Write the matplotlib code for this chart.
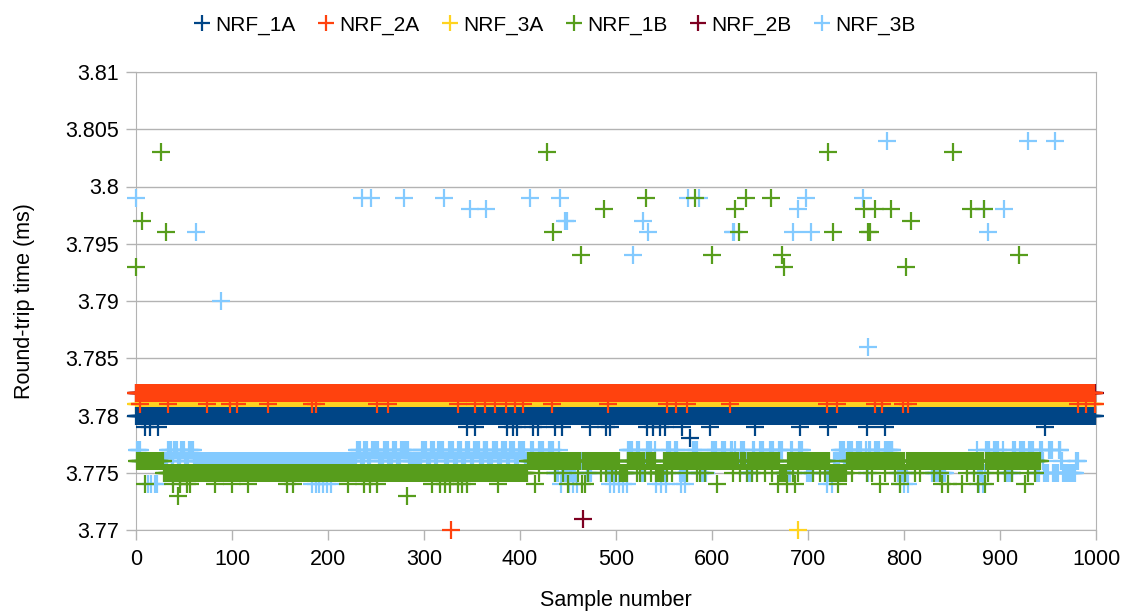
import numpy as np
import matplotlib
matplotlib.use("Agg")
import matplotlib.pyplot as plt
from matplotlib.lines import Line2D

plt.rcParams["font.family"] = ["Liberation Sans", "DejaVu Sans"]

# series data: base runs (start, stop, value), extra runs, single points (sample, value)
names = ["NRF_1A", "NRF_2A", "NRF_3A", "NRF_1B", "NRF_2B", "NRF_3B"]
colors = ["#004586", "#ff420e", "#ffd320", "#579d1c", "#7e0021", "#83caff"]

nrf_1a_base = [(0, 999, 3.780)]
nrf_1a_runs = []
nrf_1a_points = [(9, 3.779), (15, 3.779), (23, 3.779), (345, 3.779), (353, 3.779),
                 (386, 3.779), (393, 3.779), (397, 3.779), (414, 3.779), (419, 3.779),
                 (436, 3.779), (444, 3.779), (473, 3.779), (490, 3.779), (494, 3.779),
                 (532, 3.779), (539, 3.779), (546, 3.779), (551, 3.779), (569, 3.779),
                 (577, 3.778), (598, 3.779), (645, 3.779), (692, 3.779), (721, 3.779),
                 (761, 3.779), (780, 3.779), (947, 3.779)]

nrf_2a_base = [(0, 999, 3.782)]
nrf_2a_runs = []
nrf_2a_points = [(4, 3.781), (33, 3.781), (74, 3.781), (98, 3.781), (105, 3.781),
                 (138, 3.781), (183, 3.781), (188, 3.781), (251, 3.781), (263, 3.781),
                 (328, 3.770), (335, 3.781), (353, 3.781), (364, 3.781), (374, 3.781),
                 (385, 3.781), (395, 3.781), (403, 3.781), (433, 3.781), (492, 3.781),
                 (553, 3.781), (563, 3.781), (574, 3.781), (619, 3.781), (720, 3.781),
                 (730, 3.781), (770, 3.781), (777, 3.781), (799, 3.781), (804, 3.781),
                 (981, 3.781), (990, 3.781), (999, 3.781)]

nrf_3a_base = [(0, 999, 3.781)]
nrf_3a_runs = []
nrf_3a_points = [(690, 3.770)]

nrf_1b_base = [(0, 407, 3.775), (408, 942, 3.776)]
nrf_1b_runs = [(1, 28, 3.776), (504, 511, 3.775), (542, 549, 3.775), (671, 677, 3.775),
               (723, 740, 3.775)]
nrf_1b_points = [
    # 3.774 / 3.773 lower scatter
    (9, 3.774), (39, 3.774), (44, 3.773), (46, 3.774), (53, 3.774), (56, 3.774),
    (82, 3.774), (100, 3.774), (117, 3.774), (157, 3.774), (164, 3.774), (221, 3.774),
    (237, 3.774), (244, 3.774), (251, 3.774), (282, 3.773), (308, 3.774), (317, 3.774),
    (322, 3.774), (327, 3.774), (335, 3.774), (340, 3.774), (345, 3.774), (377, 3.774),
    (416, 3.774), (450, 3.774), (465, 3.774), (468, 3.774), (605, 3.774), (669, 3.774),
    (678, 3.774), (686, 3.774), (726, 3.774), (731, 3.774), (770, 3.774), (775, 3.774),
    (796, 3.774), (840, 3.774), (846, 3.774), (860, 3.774), (877, 3.774), (884, 3.774),
    (926, 3.774),
    # 3.775 after the step
    (420, 3.775), (428, 3.775), (436, 3.775), (445, 3.775), (460, 3.775), (471, 3.775),
    (484, 3.775), (490, 3.775), (496, 3.775), (500, 3.775), (522, 3.775), (525, 3.775),
    (530, 3.775), (536, 3.775), (553, 3.775), (558, 3.775), (574, 3.775), (584, 3.775),
    (587, 3.775), (593, 3.775), (600, 3.775), (622, 3.775), (629, 3.775), (636, 3.775),
    (642, 3.775), (647, 3.775), (655, 3.775), (663, 3.775), (684, 3.775), (690, 3.775),
    (705, 3.775), (712, 3.775), (718, 3.775), (746, 3.775), (761, 3.775), (767, 3.775),
    (780, 3.775), (786, 3.775), (791, 3.775), (801, 3.775), (811, 3.775), (817, 3.775),
    (831, 3.775), (838, 3.775), (851, 3.775), (866, 3.775), (873, 3.775), (888, 3.775),
    (898, 3.775), (905, 3.775), (913, 3.775), (920, 3.775), (929, 3.775), (936, 3.775),
    # outliers above
    (0, 3.793), (6, 3.797), (26, 3.803), (31, 3.796), (428, 3.803), (434, 3.796),
    (464, 3.794), (488, 3.798), (531, 3.799), (582, 3.799), (600, 3.794), (624, 3.798),
    (628, 3.796), (635, 3.799), (661, 3.799), (673, 3.794), (675, 3.793), (721, 3.803),
    (726, 3.796), (758, 3.798), (763, 3.796), (765, 3.796), (770, 3.798), (786, 3.798),
    (802, 3.793), (807, 3.797), (851, 3.803), (870, 3.798), (883, 3.798), (920, 3.794)]

nrf_2b_base = [(0, 999, 3.782)]
nrf_2b_runs = []
nrf_2b_points = [(466, 3.771)]

nrf_3b_base = [(0, 981, 3.776)]
nrf_3b_runs = [
    # 3.777 upper band
    (1, 4, 3.777), (33, 36, 3.777), (40, 43, 3.777), (47, 50, 3.777), (55, 59, 3.777),
    (230, 233, 3.777), (238, 241, 3.777), (246, 252, 3.777), (258, 262, 3.777),
    (268, 271, 3.777), (276, 283, 3.777), (298, 302, 3.777), (307, 310, 3.777),
    (315, 320, 3.777), (326, 330, 3.777), (335, 339, 3.777), (344, 347, 3.777),
    (352, 357, 3.777), (362, 366, 3.777), (372, 376, 3.777), (381, 385, 3.777),
    (390, 394, 3.777), (399, 404, 3.777), (410, 414, 3.777), (420, 424, 3.777),
    (430, 434, 3.777), (440, 445, 3.777), (504, 508, 3.777), (513, 517, 3.777),
    (522, 526, 3.777), (532, 536, 3.777), (541, 545, 3.777), (551, 556, 3.777),
    (561, 564, 3.777), (570, 574, 3.777), (580, 584, 3.777), (590, 594, 3.777),
    (600, 604, 3.777), (610, 614, 3.777), (620, 624, 3.777), (630, 633, 3.777),
    (640, 644, 3.777), (650, 653, 3.777), (660, 664, 3.777), (670, 674, 3.777),
    (680, 684, 3.777), (690, 694, 3.777), (699, 702, 3.777), (733, 737, 3.777),
    (742, 746, 3.777), (751, 755, 3.777), (760, 765, 3.777), (770, 774, 3.777),
    (780, 788, 3.777), (876, 880, 3.777), (885, 889, 3.777), (894, 898, 3.777),
    (903, 907, 3.777), (912, 916, 3.777), (921, 925, 3.777), (930, 934, 3.777),
    (940, 944, 3.777), (950, 954, 3.777), (958, 963, 3.777), (966, 968, 3.777),
    # 3.775 lower band
    (436, 440, 3.775), (443, 457, 3.775), (470, 474, 3.775), (492, 500, 3.775),
    (504, 511, 3.775), (525, 530, 3.775), (542, 552, 3.775), (567, 574, 3.775),
    (587, 594, 3.775), (636, 642, 3.775), (674, 681, 3.775), (698, 705, 3.775),
    (719, 726, 3.775), (761, 763, 3.775), (794, 804, 3.775), (829, 843, 3.775),
    (877, 884, 3.775), (905, 913, 3.775), (937, 941, 3.775), (946, 950, 3.775),
    (955, 960, 3.775), (966, 978, 3.775)]
nrf_3b_points = [
    (12, 3.774), (16, 3.774), (20, 3.774), (22, 3.774), (183, 3.774), (187, 3.774),
    (191, 3.774), (195, 3.774), (199, 3.774), (203, 3.774), (443, 3.774), (447, 3.774),
    (451, 3.774), (455, 3.774), (459, 3.774), (494, 3.774), (498, 3.774), (503, 3.774),
    (507, 3.774), (511, 3.774), (542, 3.774), (547, 3.774), (552, 3.774), (568, 3.774),
    (572, 3.774), (698, 3.774), (703, 3.774), (720, 3.774), (725, 3.774), (796, 3.774),
    (800, 3.774), (804, 3.774), (878, 3.774), (882, 3.774),
    (0, 3.799), (62, 3.796), (89, 3.790), (235, 3.799), (245, 3.799), (279, 3.799),
    (321, 3.799), (348, 3.798), (365, 3.798), (410, 3.799), (442, 3.799), (447, 3.797),
    (449, 3.797), (518, 3.794), (528, 3.797), (533, 3.796), (575, 3.799), (586, 3.799),
    (622, 3.796), (623, 3.796), (684, 3.796), (690, 3.798), (698, 3.799), (703, 3.796),
    (757, 3.799), (763, 3.786), (782, 3.804), (883, 3.798), (887, 3.796), (904, 3.798),
    (929, 3.804), (957, 3.804)]

series = [
    (nrf_1a_base, nrf_1a_runs, nrf_1a_points),
    (nrf_2a_base, nrf_2a_runs, nrf_2a_points),
    (nrf_3a_base, nrf_3a_runs, nrf_3a_points),
    (nrf_1b_base, nrf_1b_runs, nrf_1b_points),
    (nrf_2b_base, nrf_2b_runs, nrf_2b_points),
    (nrf_3b_base, nrf_3b_runs, nrf_3b_points),
]
# drawing order, lowest first
zorders = [5, 6, 4, 3, 2, 1]


def build(base, runs, points):
    n = max(e for s, e, v in base) + 1
    vals = np.full(n, np.nan)
    for s, e, v in base + runs:
        vals[s:e + 1] = v
    for i, v in points:
        vals[i] = v
    return np.arange(n), vals


fig = plt.figure(figsize=(11.23, 6.15), dpi=100)
ax = fig.add_axes([136 / 1123, 1 - 530 / 615, 960 / 1123, 458 / 615])

for (base, runs, points), c, z in zip(series, colors, zorders):
    x, y = build(base, runs, points)
    ax.plot(x, y, linestyle="none", marker="+", markersize=12.5,
            markeredgewidth=1.6, color=c, zorder=z + 2, clip_on=False)

ax.set_xlim(0, 1000)
ax.set_ylim(3.77, 3.81)
ax.set_xticks(np.arange(0, 1001, 100))
ax.set_yticks([3.77, 3.775, 3.78, 3.785, 3.79, 3.795, 3.8, 3.805, 3.81])
ax.set_yticklabels(["3.77", "3.775", "3.78", "3.785", "3.79", "3.795", "3.8", "3.805", "3.81"])
ax.yaxis.grid(True, color="#b3b3b3", linewidth=1)
ax.set_axisbelow(True)
for sp in ax.spines.values():
    sp.set_color("#b3b3b3")
ax.tick_params(axis="both", colors="#b3b3b3", labelcolor="black", labelsize=15.5,
               length=7, width=1)
ax.tick_params(axis="y", pad=5)
ax.tick_params(axis="x", pad=7)
ax.set_xlabel("Sample number", fontsize=15.5, labelpad=14)
ax.set_ylabel("Round-trip time (ms)", fontsize=15.5, labelpad=22)

handles = [Line2D([], [], linestyle="none", marker="+", markersize=12,
                  markeredgewidth=1.6, color=c) for c in colors]
fig.legend(handles, names, loc="upper center", bbox_to_anchor=(0.493, 1.005), ncol=6,
           frameon=False, fontsize=15, handletextpad=0.1, columnspacing=1.0,
           handlelength=1.0)

fig.savefig("out.png", dpi=100)
